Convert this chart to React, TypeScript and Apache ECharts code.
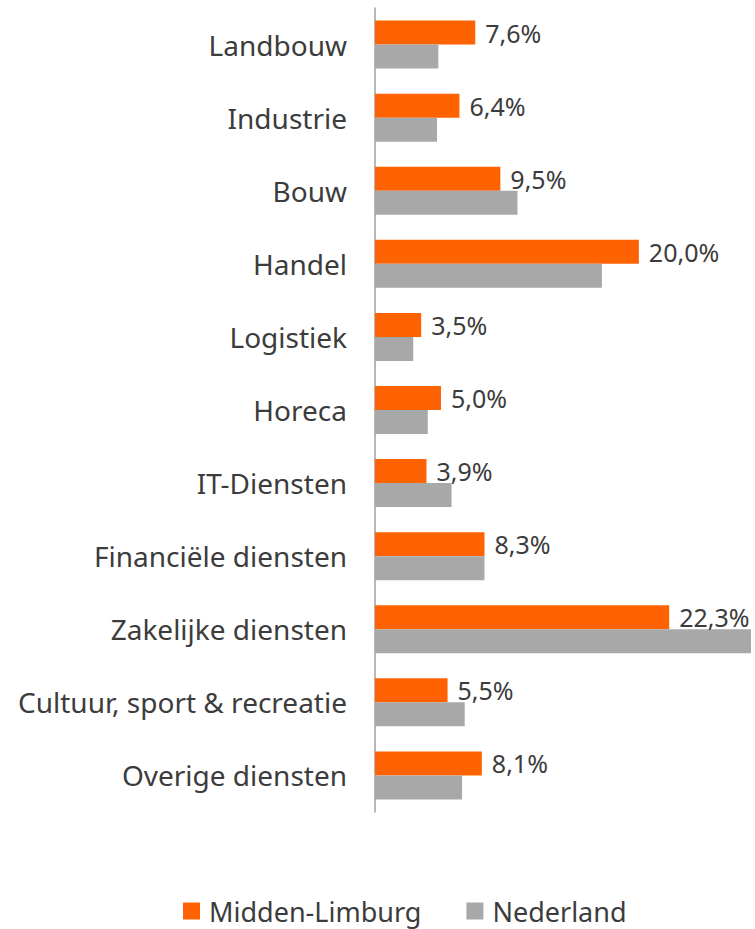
import React, { useEffect, useRef } from "react";
import * as echarts from "echarts";

const categories = [
  "Landbouw",
  "Industrie",
  "Bouw",
  "Handel",
  "Logistiek",
  "Horeca",
  "IT-Diensten",
  "Financiële diensten",
  "Zakelijke diensten",
  "Cultuur, sport & recreatie",
  "Overige diensten",
];
const middenLimburg = [7.6, 6.4, 9.5, 20.0, 3.5, 5.0, 3.9, 8.3, 22.3, 5.5, 8.1];
const nederland = [4.8, 4.7, 10.8, 17.2, 2.9, 4.0, 5.8, 8.3, 28.5, 6.8, 6.6];
const seriesNames = ["Midden-Limburg", "Nederland"];

const FONT = "'Noto Sans', 'Open Sans', sans-serif";
const TEXT = "#3c3c3c";

export default function App() {
  const ref = useRef<HTMLDivElement>(null);
  useEffect(() => {
    document.body.style.margin = "0";
    const chart = echarts.init(ref.current!, undefined, { renderer: "svg" });
    chart.setOption({
      animation: false,
      grid: { left: 375, right: 4, top: 8, bottom: 117, containLabel: false },
      legend: {
        top: 896,
        left: 183,
        padding: 0,
        itemWidth: 17,
        itemHeight: 17,
        itemGap: 45,
        icon: "rect",
        textStyle: {
          fontSize: 27,
          lineHeight: 30,
          color: TEXT,
          fontFamily: FONT,
          padding: [0, 0, 0, 4],
        },
        data: seriesNames,
      },
      xAxis: {
        type: "value",
        min: 0,
        max: 28.5,
        show: false,
        splitLine: { show: false },
      },
      yAxis: {
        type: "category",
        data: categories,
        inverse: true,
        axisLine: { show: true, lineStyle: { color: "#a0a0a0", width: 1.5 } },
        axisTick: { show: false },
        axisLabel: { margin: 28, fontSize: 28, color: TEXT, fontFamily: FONT },
      },
      series: [
        {
          name: seriesNames[0],
          type: "bar",
          data: middenLimburg,
          barWidth: 24,
          barGap: "0%",
          itemStyle: { color: "#FF6200" },
          label: {
            show: true,
            position: "right",
            distance: 10,
            fontSize: 25,
            color: TEXT,
            fontFamily: FONT,
            formatter: (p: any) => p.value.toFixed(1).replace(".", ",") + "%",
          },
        },
        {
          name: seriesNames[1],
          type: "bar",
          data: nederland,
          barWidth: 24,
          barGap: "0%",
          itemStyle: { color: "#A8A8A8" },
        },
      ],
    });
    return () => chart.dispose();
  }, []);
  return <div ref={ref} style={{ width: 755, height: 929 }} />;
}
